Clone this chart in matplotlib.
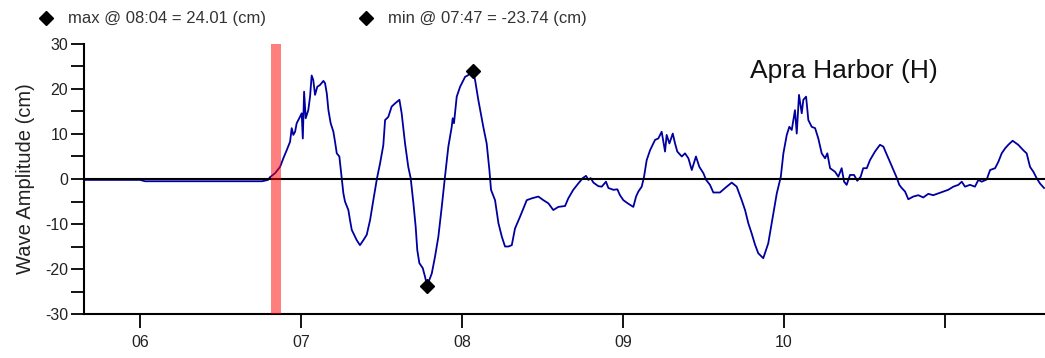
import matplotlib
matplotlib.use("Agg")
import matplotlib.pyplot as plt
from matplotlib.lines import Line2D
import numpy as np

plt.rcParams["font.family"] = ["Liberation Sans", "DejaVu Sans"]
plt.rcParams["axes.unicode_minus"] = False

# Wave record: time in decimal hours, amplitude in cm
time_hours = [
    5.652, 6.000, 6.031, 6.758, 6.795, 6.807, 6.839, 6.870, 6.890, 6.911,
    6.932, 6.942, 6.952, 6.963, 6.973, 6.989, 7.004, 7.011, 7.019, 7.029,
    7.045, 7.056, 7.066, 7.076, 7.087, 7.101, 7.118, 7.139, 7.149, 7.160,
    7.170, 7.184, 7.201, 7.211, 7.222, 7.238, 7.247, 7.253, 7.263, 7.273,
    7.294, 7.304, 7.315, 7.335, 7.346, 7.366, 7.387, 7.408, 7.429, 7.449,
    7.472, 7.491, 7.511, 7.522, 7.542, 7.563, 7.584, 7.611, 7.625, 7.646,
    7.666, 7.681, 7.698, 7.712, 7.722, 7.735, 7.756, 7.770, 7.783, 7.812,
    7.832, 7.853, 7.874, 7.894, 7.915, 7.936, 7.942, 7.950, 7.967, 7.988,
    8.019, 8.039, 8.067, 8.081, 8.101, 8.132, 8.153, 8.170, 8.180, 8.205,
    8.226, 8.247, 8.267, 8.288, 8.309, 8.329, 8.360, 8.402, 8.433, 8.474,
    8.505, 8.536, 8.567, 8.598, 8.640, 8.660, 8.691, 8.722, 8.750, 8.770,
    8.785, 8.799, 8.816, 8.847, 8.868, 8.894, 8.909, 8.940, 8.965, 8.981,
    9.002, 9.033, 9.064, 9.081, 9.095, 9.116, 9.130, 9.147, 9.168, 9.199,
    9.219, 9.240, 9.261, 9.271, 9.288, 9.309, 9.323, 9.337, 9.365, 9.385,
    9.406, 9.427, 9.453, 9.474, 9.499, 9.516, 9.540, 9.561, 9.602, 9.634,
    9.675, 9.706, 9.737, 9.758, 9.778, 9.799, 9.820, 9.840, 9.871, 9.902,
    9.934, 9.955, 9.980, 9.996, 10.017, 10.033, 10.048, 10.068, 10.079, 10.093,
    10.110, 10.120, 10.137, 10.151, 10.172, 10.193, 10.213, 10.234, 10.255, 10.269,
    10.286, 10.317, 10.337, 10.358, 10.373, 10.389, 10.410, 10.435, 10.455, 10.476,
    10.492, 10.514, 10.534, 10.565, 10.596, 10.617, 10.648, 10.679, 10.700, 10.716,
    10.731, 10.752, 10.772, 10.803, 10.834, 10.865, 10.896, 10.927, 10.958, 10.989,
    11.020, 11.052, 11.083, 11.104, 11.124, 11.155, 11.186, 11.207, 11.228, 11.259,
    11.280, 11.311, 11.331, 11.352, 11.373, 11.393, 11.420, 11.455, 11.486, 11.507,
    11.528, 11.549, 11.569, 11.590, 11.615,
]
amplitude_cm = [
    -0.2, -0.2, -0.5, -0.5, -0.2, 0.4, 1.3, 2.7, 4.6, 6.4,
    8.3, 11.3, 9.8, 10.5, 12.4, 13.5, 14.6, 9.0, 19.4, 13.5,
    15.3, 18.3, 23.0, 22.0, 18.7, 20.5, 20.9, 21.8, 21.3, 19.0,
    15.3, 12.4, 10.5, 8.3, 5.7, 5.0, 2.0, 0.2, -3.2, -5.0,
    -6.9, -9.1, -11.3, -12.8, -13.6, -14.7, -13.6, -12.4, -9.1, -4.7,
    0.2, 3.5, 7.5, 13.1, 13.8, 16.1, 16.8, 17.6, 14.6, 7.9,
    2.7, 0.2, -5.4, -10.6, -15.8, -18.7, -19.8, -21.7, -23.74, -21.0,
    -17.3, -12.8, -6.2, 0.5, 7.2, 11.6, 13.5, 12.4, 18.3, 20.5,
    22.7, 23.1, 24.01, 22.0, 17.6, 11.6, 7.9, 2.0, -2.4, -4.7,
    -9.8, -12.8, -15.0, -15.0, -14.7, -11.0, -8.4, -4.7, -4.3, -3.9,
    -4.7, -5.4, -6.9, -6.2, -6.0, -4.3, -2.4, -1.0, 0.2, 0.7,
    -0.2, 0.2, -0.8, -1.6, -1.7, -0.6, -2.0, -2.4, -2.3, -3.6,
    -4.7, -5.5, -6.2, -3.9, -2.8, -1.7, 0.4, 4.2, 6.4, 8.7,
    9.0, 10.5, 6.1, 9.8, 7.9, 10.1, 7.9, 6.1, 5.0, 5.7,
    4.6, 2.0, 5.0, 2.7, 1.3, -0.2, -1.3, -3.0, -3.0, -2.0,
    -0.8, -1.7, -4.7, -6.9, -9.8, -12.1, -14.6, -16.5, -17.6, -14.3,
    -7.6, -3.2, 0.5, 5.7, 9.8, 11.6, 10.9, 15.3, 10.1, 18.7,
    14.6, 17.6, 18.3, 13.1, 11.6, 11.3, 9.0, 5.7, 4.6, 5.7,
    2.4, 1.6, 0.5, 2.4, -0.6, -1.3, 0.9, 0.9, -0.4, 0.5,
    2.4, 2.4, 4.2, 6.1, 7.6, 7.2, 4.6, 2.0, 0.3, -1.3,
    -2.0, -2.8, -4.5, -3.9, -3.6, -4.1, -3.3, -3.6, -3.2, -2.8,
    -2.4, -1.7, -1.3, -0.6, -1.7, -1.3, -1.7, -0.2, -0.6, -0.1,
    2.0, 2.4, 3.8, 5.7, 6.8, 7.6, 8.5, 7.6, 6.4, 5.7,
    2.7, 1.6, 0.2, -1.0, -2.0,
]

# Arrival window (hours)
arrival_start = 6.815
arrival_end = 6.874

x_limits = (5.652, 11.621)
y_limits = (-30, 30)
x_ticks = [6, 7, 8, 9, 10, 11]
x_tick_labels = ["06", "07", "08", "09", "10", ""]
station = "Apra Harbor (H)"


def hhmm(h):
    total = int(round(h * 60))
    return f"{total // 60:02d}:{total % 60:02d}"


t = np.array(time_hours)
a = np.array(amplitude_cm)
i_max = int(np.argmax(a))
i_min = int(np.argmin(a))

fig = plt.figure(figsize=(10.45, 3.58), dpi=100)
ax = fig.add_axes([0.0804, 0.1229, 0.9196, 0.7542])

ax.plot(t, a, color="#0000a0", linewidth=1.3, zorder=2)
ax.axhline(0, color="black", linewidth=1.5, zorder=3)
ax.axvspan(arrival_start, arrival_end, color="red", alpha=0.5, linewidth=0, zorder=4)

ax.plot(t[i_max], a[i_max], "D", color="black", markersize=7, zorder=5)
ax.plot(t[i_min], a[i_min], "D", color="black", markersize=7, zorder=5)

ax.set_xlim(*x_limits)
ax.set_ylim(*y_limits)
ax.set_xticks(x_ticks)
ax.set_xticklabels(x_tick_labels)
ax.set_yticks(np.arange(-30, 31, 10))
ax.set_yticks(np.arange(-25, 26, 10), minor=True)

for side in ["top", "right"]:
    ax.spines[side].set_visible(False)
for side in ["left", "bottom"]:
    ax.spines[side].set_linewidth(1.5)

ax.tick_params(axis="y", which="both", length=9.5, width=1.3, pad=2,
               labelsize=11.5, colors="black")
ax.tick_params(axis="x", which="both", length=10, width=1.3, pad=5,
               labelsize=11.5, colors="black")
for lbl in ax.get_xticklabels() + ax.get_yticklabels():
    lbl.set_color("#222222")

ax.set_ylabel("Wave Amplitude (cm)", fontsize=14.5, color="#222222", labelpad=7)

ax.text(750 / 1045, 1 - 78 / 358, station, transform=fig.transFigure,
        fontsize=19, color="#111111", ha="left", va="baseline")

# Max / min key along the top
labels = [
    f"max @ {hhmm(t[i_max])} = {a[i_max]:.2f} (cm)",
    f"min @ {hhmm(t[i_min])} = {a[i_min]:.2f} (cm)",
]
key_y = 1 - 18 / 358
for mx, tx, lab in [(46, 68, labels[0]), (366, 388, labels[1])]:
    fig.add_artist(Line2D([mx / 1045], [key_y], marker="D", color="black",
                          linestyle="none", markersize=7.5,
                          transform=fig.transFigure))
    fig.text(tx / 1045, key_y, lab, fontsize=12, color="#333333",
             ha="left", va="center")

fig.savefig("out.png", dpi=100)
